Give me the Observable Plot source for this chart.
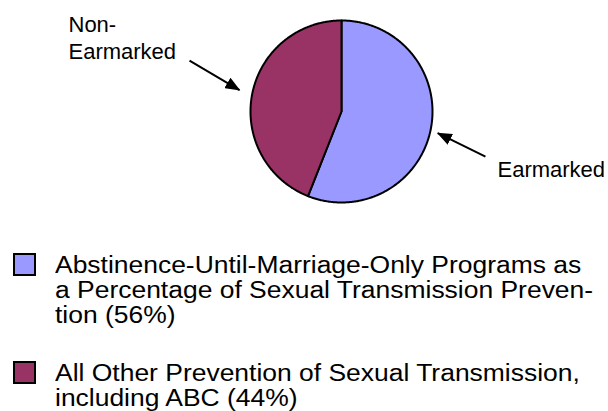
<!DOCTYPE html>
<html>
<head>
<meta charset="utf-8">
<script src="https://cdn.jsdelivr.net/npm/d3@7"></script>
<script src="https://cdn.jsdelivr.net/npm/@observablehq/plot@0.6"></script>
<style>
  html, body { margin: 0; padding: 0; background: #fff; }
  #wrap { position: relative; width: 608px; height: 411px; overflow: hidden; font-family: "Liberation Sans", Arial, sans-serif; }
  #wrap svg { position: absolute; left: 0; top: 0; }
  .entry { position: absolute; left: 0; width: 608px; }
  .sw { position: absolute; left: 13px; width: 19px; height: 19px; border: 2px solid #000; }
  .txt { position: absolute; left: 55px; font-size: 23px; line-height: 25px; color: #000; white-space: nowrap; transform: scaleX(1.15); transform-origin: left top; }
  .txt span { display: block; }
</style>
</head>
<body>
<div id="wrap"></div>
<script>
// ---- data ----
const categories = ["Earmarked", "Non-Earmarked"];
const shares = [56, 44];
const colors = ["#9999FF", "#993366"];
const legendLines = [
  ["Abstinence-Until-Marriage-Only Programs as", "a Percentage of Sexual Transmission Preven-", "tion (56%)"],
  ["All Other Prevention of Sexual Transmission,", "including ABC (44%)"]
];
// annotation labels and arrows, in pie-radius units
const labels = [
  {text: "Non-\nEarmarked", x: -3.0, y: 1.08},
  {text: "Earmarked", x: 1.714, y: -0.513}
];
const arrows = [
  {x1: -1.670, y1: 0.560, x2: -1.121, y2: 0.236},
  {x1: 1.582, y1: -0.495, x2: 1.058, y2: -0.238}
];

// ---- pie geometry from the values ----
const arcs = d3.pie().sort(null).startAngle(0).endAngle(2 * Math.PI)(shares);
const pieData = [];
arcs.forEach((a, i) => {
  const cat = categories[i];
  pieData.push({category: cat, x: 0, y: 0});
  const n = Math.max(2, Math.ceil((a.endAngle - a.startAngle) / 0.01));
  for (let k = 0; k <= n; k++) {
    const t = a.startAngle + (a.endAngle - a.startAngle) * k / n;
    pieData.push({category: cat, x: Math.sin(t), y: Math.cos(t)});
  }
  pieData.push({category: cat, x: 0, y: 0});
});

const triangle = (color) => {
  const m = document.createElementNS("http://www.w3.org/2000/svg", "marker");
  m.setAttribute("viewBox", "-14 -6 16 12");
  m.setAttribute("markerWidth", "16");
  m.setAttribute("markerHeight", "12");
  m.setAttribute("markerUnits", "userSpaceOnUse");
  m.setAttribute("orient", "auto");
  m.setAttribute("refX", "0");
  m.setAttribute("refY", "0");
  const p = document.createElementNS("http://www.w3.org/2000/svg", "path");
  p.setAttribute("d", "M1,0L-14,-6L-14,6Z");
  p.setAttribute("fill", "#000");
  p.setAttribute("stroke", "none");
  m.appendChild(p);
  return m;
};

const chart = Plot.plot({
  width: 608,
  height: 235,
  marginLeft: 250,
  marginRight: 176,
  marginTop: 20,
  marginBottom: 33,
  x: {domain: [-1, 1], axis: null},
  y: {domain: [-1, 1], axis: null},
  color: {domain: categories, range: colors},
  style: {fontFamily: "'Liberation Sans', Arial, sans-serif", overflow: "visible", background: "transparent"},
  marks: [
    Plot.line(pieData, {x: "x", y: "y", z: "category", fill: "category", stroke: "#000", strokeWidth: 2, strokeLinejoin: "round", curve: "linear"}),
    Plot.link(arrows, {x1: "x1", y1: "y1", x2: "x2", y2: "y2", stroke: "#000", strokeWidth: 2, markerEnd: triangle}),
    Plot.text(labels, {x: "x", y: "y", text: "text", textAnchor: "start", lineAnchor: "top", lineHeight: 1.227, fontSize: 22, fill: "#000"})
  ]
});
const wrap = document.getElementById("wrap");
wrap.appendChild(chart);

// ---- legend (below the pie) ----
const entryTops = [253, 361];
legendLines.forEach((lines, i) => {
  const e = document.createElement("div");
  e.className = "entry";
  e.style.top = entryTops[i] + "px";
  const sw = document.createElement("div");
  sw.className = "sw";
  sw.style.top = "0px";
  sw.style.background = colors[i];
  e.appendChild(sw);
  const t = document.createElement("div");
  t.className = "txt";
  t.style.top = "0px";
  lines.forEach(l => { const s = document.createElement("span"); s.textContent = l; t.appendChild(s); });
  e.appendChild(t);
  wrap.appendChild(e);
});
</script>
</body>
</html>
